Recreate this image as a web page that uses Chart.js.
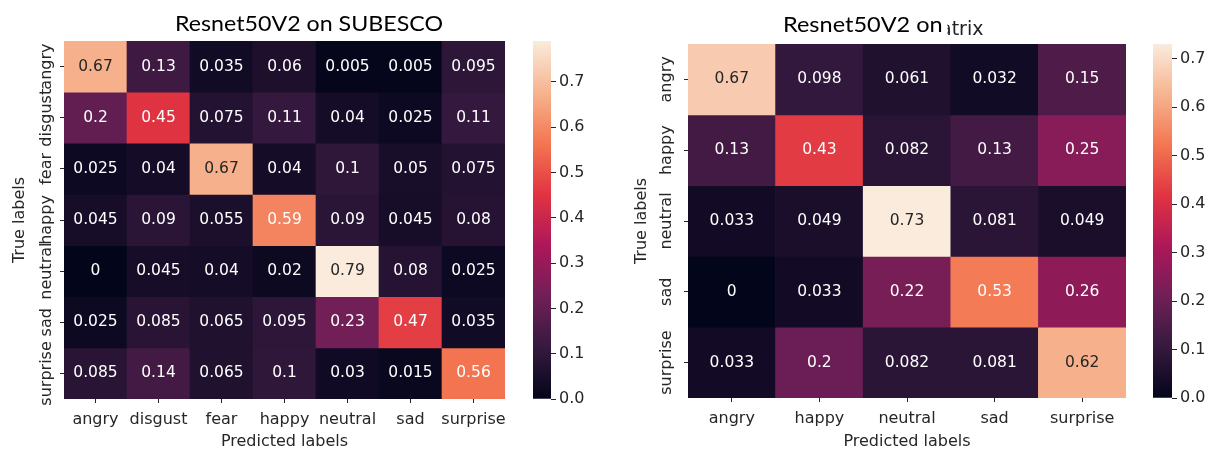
<!DOCTYPE html>
<html><head><meta charset="utf-8">
<script src="https://cdn.jsdelivr.net/npm/chart.js@4.4.1/dist/chart.umd.min.js"></script>
<style>
body{margin:0;background:#fff;width:1210px;height:451px;overflow:hidden;position:relative;}
canvas{position:absolute;top:0;}
.ttl{position:absolute;white-space:nowrap;line-height:1;color:#000;transform-origin:0 0;}
#t1,#t2{font-family:Lato,"Open Sans",sans-serif;font-size:22px;background:#fff;z-index:2;}
#t2{padding-right:5px;}
#t2b{font-family:"DejaVu Sans";font-size:19px;z-index:1;color:#222;}
</style></head><body>
<canvas id="hm1" width="520" height="451" style="left:0px"></canvas>
<canvas id="cb1" width="100" height="451" style="left:520px"></canvas>
<canvas id="hm2" width="520" height="451" style="left:620px"></canvas>
<canvas id="cb2" width="70" height="451" style="left:1140px"></canvas>
<div class="ttl" id="t1">Resnet50V2 on SUBESCO</div>
<div class="ttl" id="t2b">atrix</div>
<div class="ttl" id="t2">Resnet50V2 on</div>
<script>
// ---- data: Resnet50V2 on SUBESCO (rows = true labels) ----
const subescoLabels = ['angry','disgust','fear','happy','neutral','sad','surprise'];
const subAngry    = [0.67, 0.13, 0.035, 0.06, 0.005, 0.005, 0.095];
const subDisgust  = [0.2, 0.45, 0.075, 0.11, 0.04, 0.025, 0.11];
const subFear     = [0.025, 0.04, 0.67, 0.04, 0.1, 0.05, 0.075];
const subHappy    = [0.045, 0.09, 0.055, 0.59, 0.09, 0.045, 0.08];
const subNeutral  = [0, 0.045, 0.04, 0.02, 0.79, 0.08, 0.025];
const subSad      = [0.025, 0.085, 0.065, 0.095, 0.23, 0.47, 0.035];
const subSurprise = [0.085, 0.14, 0.065, 0.1, 0.03, 0.015, 0.56];
// ---- data: second matrix ----
const m2Labels   = ['angry','happy','neutral','sad','surprise'];
const m2Angry    = [0.67, 0.098, 0.061, 0.032, 0.15];
const m2Happy    = [0.13, 0.43, 0.082, 0.13, 0.25];
const m2Neutral  = [0.033, 0.049, 0.73, 0.081, 0.049];
const m2Sad      = [0, 0.033, 0.22, 0.53, 0.26];
const m2Surprise = [0.033, 0.2, 0.082, 0.081, 0.62];
// colorbar tick values
const colorbarTicks = [0, 0.1, 0.2, 0.3, 0.4, 0.5, 0.6, 0.7];

const subMatrix = [subAngry, subDisgust, subFear, subHappy, subNeutral, subSad, subSurprise];
const m2Matrix = [m2Angry, m2Happy, m2Neutral, m2Sad, m2Surprise];

// rocket colormap
const rocketStops = [
  [0.000, [3, 5, 26]], [0.143, [53, 25, 62]], [0.286, [112, 31, 87]],
  [0.429, [173, 23, 89]], [0.571, [225, 51, 66]], [0.714, [243, 118, 81]],
  [0.857, [246, 180, 143]], [1.000, [250, 235, 221]]
];
function rocketRGB(t) {
  t = Math.max(0, Math.min(1, t));
  for (let i = 1; i < rocketStops.length; i++) {
    const [p1, c1] = rocketStops[i], [p0, c0] = rocketStops[i - 1];
    if (t <= p1) {
      const f = (t - p0) / (p1 - p0);
      return c0.map((c, k) => Math.round(c + (c1[k] - c) * f));
    }
  }
  return rocketStops[rocketStops.length - 1][1];
}
const rgbStr = c => `rgb(${c[0]},${c[1]},${c[2]})`;
function lum(c) {
  const l = c.map(v => { v /= 255; return v <= 0.03928 ? v / 12.92 : Math.pow((v + 0.055) / 1.055, 2.4); });
  return 0.2126 * l[0] + 0.7152 * l[1] + 0.0722 * l[2];
}

const TXT = '#262626';
const FS = 16;
const FONT = {family: 'DejaVu Sans', size: FS};
Chart.defaults.font.family = 'DejaVu Sans';
Chart.defaults.color = TXT;

function measure(text, px) {
  const c = document.createElement('canvas').getContext('2d');
  c.font = px + 'px "DejaVu Sans"';
  return c.measureText(text).width;
}

const cellText = {
  id: 'cellText',
  afterDatasetsDraw(chart, args, opts) {
    const ctx = chart.ctx;
    ctx.save();
    ctx.font = '15.5px "DejaVu Sans"';
    ctx.textAlign = 'center';
    ctx.textBaseline = 'middle';
    chart.data.datasets.forEach((ds, di) => {
      chart.getDatasetMeta(di).data.forEach((el, i) => {
        const v = ds.data[i].v;
        const p = el.getProps(['x', 'y', 'base'], true);
        ctx.fillStyle = lum(rocketRGB(v / opts.vmax)) > 0.408 ? TXT : '#ffffff';
        ctx.fillText(String(v), p.x, (p.y + p.base) / 2);
      });
    });
    ctx.restore();
  }
};

function heatmap(id, labels, matrix, g) {
  const vmax = Math.max(...matrix.flat());
  const widest = Math.max(...labels.map(l => measure(l, FS)));
  const datasets = matrix.map((row, r) => ({
    data: row.map((v, j) => ({x: labels[j], y: [r, r + 1], v})),
    backgroundColor: ctx => rgbStr(rocketRGB(ctx.raw.v / vmax)),
    borderWidth: 0,
    categoryPercentage: 1, barPercentage: 1, grouped: false
  }));
  return new Chart(document.getElementById(id), {
    type: 'bar',
    data: {labels, datasets},
    plugins: [cellText],
    options: {
      responsive: false, animation: false,
      layout: {padding: {left: 0, top: g.top, right: g.right, bottom: 0}},
      plugins: {legend: {display: false}, tooltip: {enabled: false}, cellText: {vmax}},
      scales: {
        x: {
          type: 'category', offset: true,
          afterFit: s => { s.height = g.xh; },
          grid: {offset: false, drawOnChartArea: false, drawTicks: true, tickLength: 4, tickColor: TXT},
          border: {display: false},
          ticks: {color: TXT, font: FONT, padding: 7, autoSkip: false, maxRotation: 0},
          title: {display: true, text: 'Predicted labels', color: TXT, font: FONT, padding: {top: 0, bottom: 0}}
        },
        y: {
          type: 'linear', reverse: true, min: 0, max: labels.length,
          afterBuildTicks: s => { s.ticks = labels.map((_, i) => ({value: i + 0.5})); },
          afterFit: s => { s.width = g.yw; },
          grid: {drawOnChartArea: false, drawTicks: true, tickLength: 4, tickColor: TXT},
          border: {display: false},
          ticks: {
            color: TXT, font: FONT, autoSkip: false, minRotation: 90, maxRotation: 90,
            crossAlign: 'center', padding: g.yLabelOff - widest / 2,
            callback: (v, i) => labels[i]
          },
          title: {display: true, text: 'True labels', color: TXT, font: FONT, padding: {top: g.yTitlePad, bottom: 0}}
        }
      }
    }
  });
}

function colorbar(id, vmax, g) {
  return new Chart(document.getElementById(id), {
    type: 'bar',
    data: {labels: [''], datasets: [{
      data: [[0, vmax]],
      backgroundColor: ctx => {
        const a = ctx.chart.chartArea;
        if (!a) return 'black';
        const gr = ctx.chart.ctx.createLinearGradient(0, a.bottom, 0, a.top);
        rocketStops.forEach(([p, c]) => gr.addColorStop(p, rgbStr(c)));
        return gr;
      },
      borderWidth: 0, categoryPercentage: 1, barPercentage: 1
    }]},
    options: {
      responsive: false, animation: false,
      layout: {padding: {left: g.left, top: g.top, right: 0, bottom: g.bottom}},
      plugins: {legend: {display: false}, tooltip: {enabled: false}},
      scales: {
        x: {display: false},
        y: {
          position: 'right', min: 0, max: vmax,
          afterBuildTicks: s => { s.ticks = colorbarTicks.filter(t => t <= vmax).map(value => ({value})); },
          afterFit: s => { s.width = g.yw; },
          grid: {drawOnChartArea: false, drawTicks: true, tickLength: 5, tickColor: TXT},
          border: {display: false},
          ticks: {color: TXT, font: FONT, padding: 3, callback: v => v.toFixed(1)}
        }
      }
    }
  });
}

const vmax1 = Math.max(...subMatrix.flat());
const vmax2 = Math.max(...m2Matrix.flat());
heatmap('hm1', subescoLabels, subMatrix, {top: 41, right: 15, xh: 52, yw: 64, yLabelOff: 13, yTitlePad: 10});
colorbar('cb1', vmax1, {left: 13, top: 41, bottom: 52, yw: 69});
heatmap('hm2', m2Labels, m2Matrix, {top: 44, right: 14, xh: 53, yw: 68, yLabelOff: 17, yTitlePad: 12});
colorbar('cb2', vmax2, {left: 13, top: 44, bottom: 53, yw: 38});

// titles
function placeTitle(el, x, baseline, width) {
  const w = el.getBoundingClientRect().width;
  const fs = parseFloat(getComputedStyle(el).fontSize);
  el.style.left = x + 'px';
  el.style.top = (baseline - fs * 0.887) + 'px';
  if (width) el.style.transform = `scaleX(${width / w})`;
}
placeTitle(document.getElementById('t1'), 175, 32, 268);
placeTitle(document.getElementById('t2'), 783, 33, 165);
const t2b = document.getElementById('t2b');
t2b.style.left = '940px';
t2b.style.top = (37 - 19 * 0.93) + 'px';
</script>
</body></html>
